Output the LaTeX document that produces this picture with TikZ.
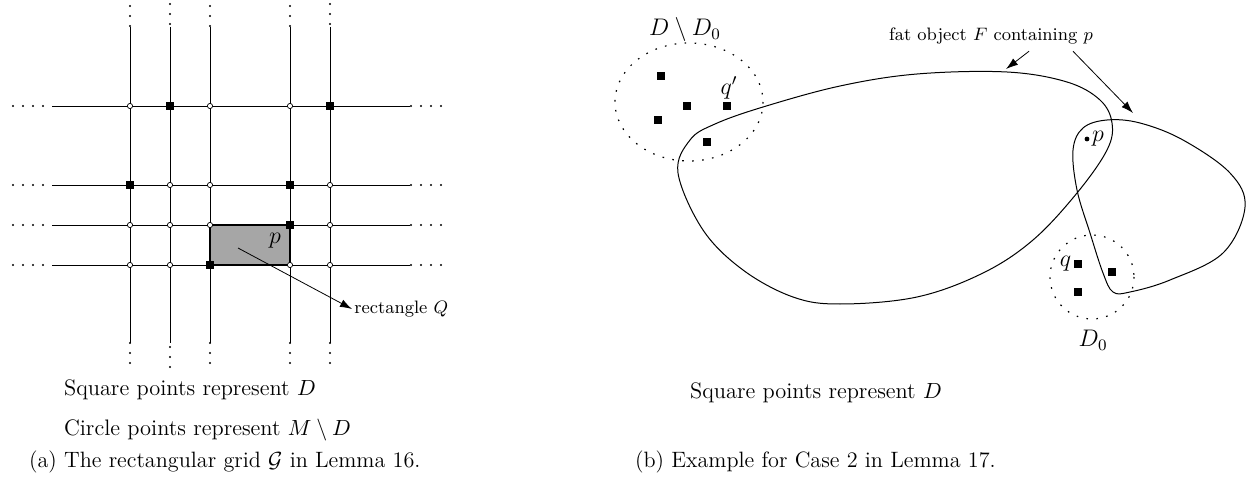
\documentclass[tikz,border=0pt]{standalone}
\usepackage{amsmath,amssymb}
\usetikzlibrary{arrows.meta,calc}

\begin{document}
\begin{tikzpicture}[x=0.5pt,y=-0.5pt,font=\small,
  sqpt/.style={fill,minimum size=4pt,inner sep=0pt},
  cipt/.style={circle,draw,fill=white,minimum size=2.6pt,inner sep=0pt,line width=0.35pt},
  eldot/.style={circle,fill,minimum size=1.1pt,inner sep=0pt},
  arr/.style={-{Latex[length=6pt,width=4pt]},line width=0.4pt},
  region/.style={line width=0.6pt,dash pattern=on 0.8pt off 4.2pt},
  mlbl/.style={font=\fontsize{11.5}{13}\selectfont},
  legend/.style={anchor=west,font=\fontsize{11.2}{13}\selectfont},
  capt/.style={anchor=west,font=\fontsize{11.1}{14}\selectfont}]
\useasboundingbox (0,0) rectangle (1252,486);
% (a) grid
\foreach \x/\t/\b [count=\i] in {130/0/0,170/-2/4,210/0/0,290/0/0,330/-2/0}{
  \coordinate (top\i) at (\x,27);
  \coordinate (bot\i) at (\x,343);
  \draw[line width=0.45pt] (top\i) -- (bot\i);
  \foreach \d in {6,16,26} \node[eldot] at (\x,\d+\t) {};
  \foreach \d in {343,353,363} \node[eldot] at (\x,\d+\b) {};
}
\foreach \y [count=\j] in {106,185,225,265}{
  \coordinate (lft\j) at (52,\y);
  \coordinate (rgt\j) at (410,\y);
  \draw[line width=0.45pt] (lft\j) -- (rgt\j);
  \foreach \d in {13,23,33,43,411,421,431,441} \node[eldot] at (\d,\y) {};
}
\fill[black!35] (210,225) rectangle (290,265);
\draw[line width=1.4pt] (210,225) rectangle (290,265);
\foreach \x [count=\i] in {130,170,210,290,330}
  \foreach \y [count=\j] in {106,185,225,265}
    \coordinate (g-\i-\j) at (\x,\y);
\foreach \i/\j in {1/1,3/1,4/1,2/2,3/2,5/2,1/3,2/3,3/3,5/3,1/4,2/4,4/4,5/4}
  \node[cipt] at (g-\i-\j) {};
\foreach \i/\j in {2/1,5/1,1/2,4/2,4/3,3/4}
  \node[sqpt] at (g-\i-\j) {};
\node[mlbl] (plbl) at (275,241) {$p$};
\coordinate (qin) at (238,248);
\node[anchor=west,inner sep=1pt] (qlbl) at (352,309) {rectangle $Q$};
\draw[arr] (qin) -- (qlbl.west);
\node[legend] (leg1) at (57,390) {Square points represent $D$};
\node[legend] (leg2) at (57,430) {Circle points represent $M\setminus D$};
\node[capt] (capa) at (22,462) {(a) The rectangular grid $\mathcal{G}$ in Lemma 16.};

% (b) fat objects
\draw[region] (689,102) ellipse [x radius=74, y radius=59];
\draw[region] (1092,277) circle [radius=42];
\draw[line width=0.5pt] plot[smooth cycle,tension=0.6] coordinates {
  (678,173) (690,140) (715,124) (763,107) (840,86) (917,74) (1007,72)
  (1067,82) (1100,100) (1112,123) (1107,150) (1077,193) (1033,240)
  (983,273) (917,297) (840,304) (793,297) (743,270) (703,230)};
\draw[line width=0.5pt] plot[smooth cycle,tension=0.6] coordinates {
  (1107,120) (1140,123) (1183,140) (1230,173) (1245,207) (1223,253)
  (1170,280) (1130,292) (1113,292) (1103,273) (1090,233) (1077,190)
  (1073,150) (1083,128)};
\foreach \x/\y [count=\k] in {661/76,687/106,727/106,658/120,707/142,1078/264,1112/272,1078/292}
  \node[sqpt] (d\k) at (\x,\y) {};
\node[mlbl] (dlbl) at (685,30) {$D\setminus D_0$};
\node[mlbl] (qplbl) at (729,88) {$q'$};
\node[mlbl,anchor=east,inner sep=1pt] (qlbl2) at (d6.west) {$q$};
\node[mlbl] (d0lbl) at (1093,340) {$D_0$};
\node[circle,fill,inner sep=0pt,minimum size=2.4pt] (pt) at (1087,139) {};
\node[mlbl,anchor=west,inner sep=1pt] (ptlbl) at (pt.east) {$p$};
\node (flbl) at (991,36) {fat object $F$ containing $p$};
\coordinate (ftop) at (1006,69);
\coordinate (fright) at (1133,113);
\draw[arr] ([xshift=19pt]flbl.south) -- (ftop);
\draw[arr] ([xshift=41pt]flbl.south) -- (fright);
\node[legend] (leg3) at (683,393) {Square points represent $D$};
\node[capt] (capb) at (628,462) {(b) Example for Case 2 in Lemma 17.};
\end{tikzpicture}
\end{document}
